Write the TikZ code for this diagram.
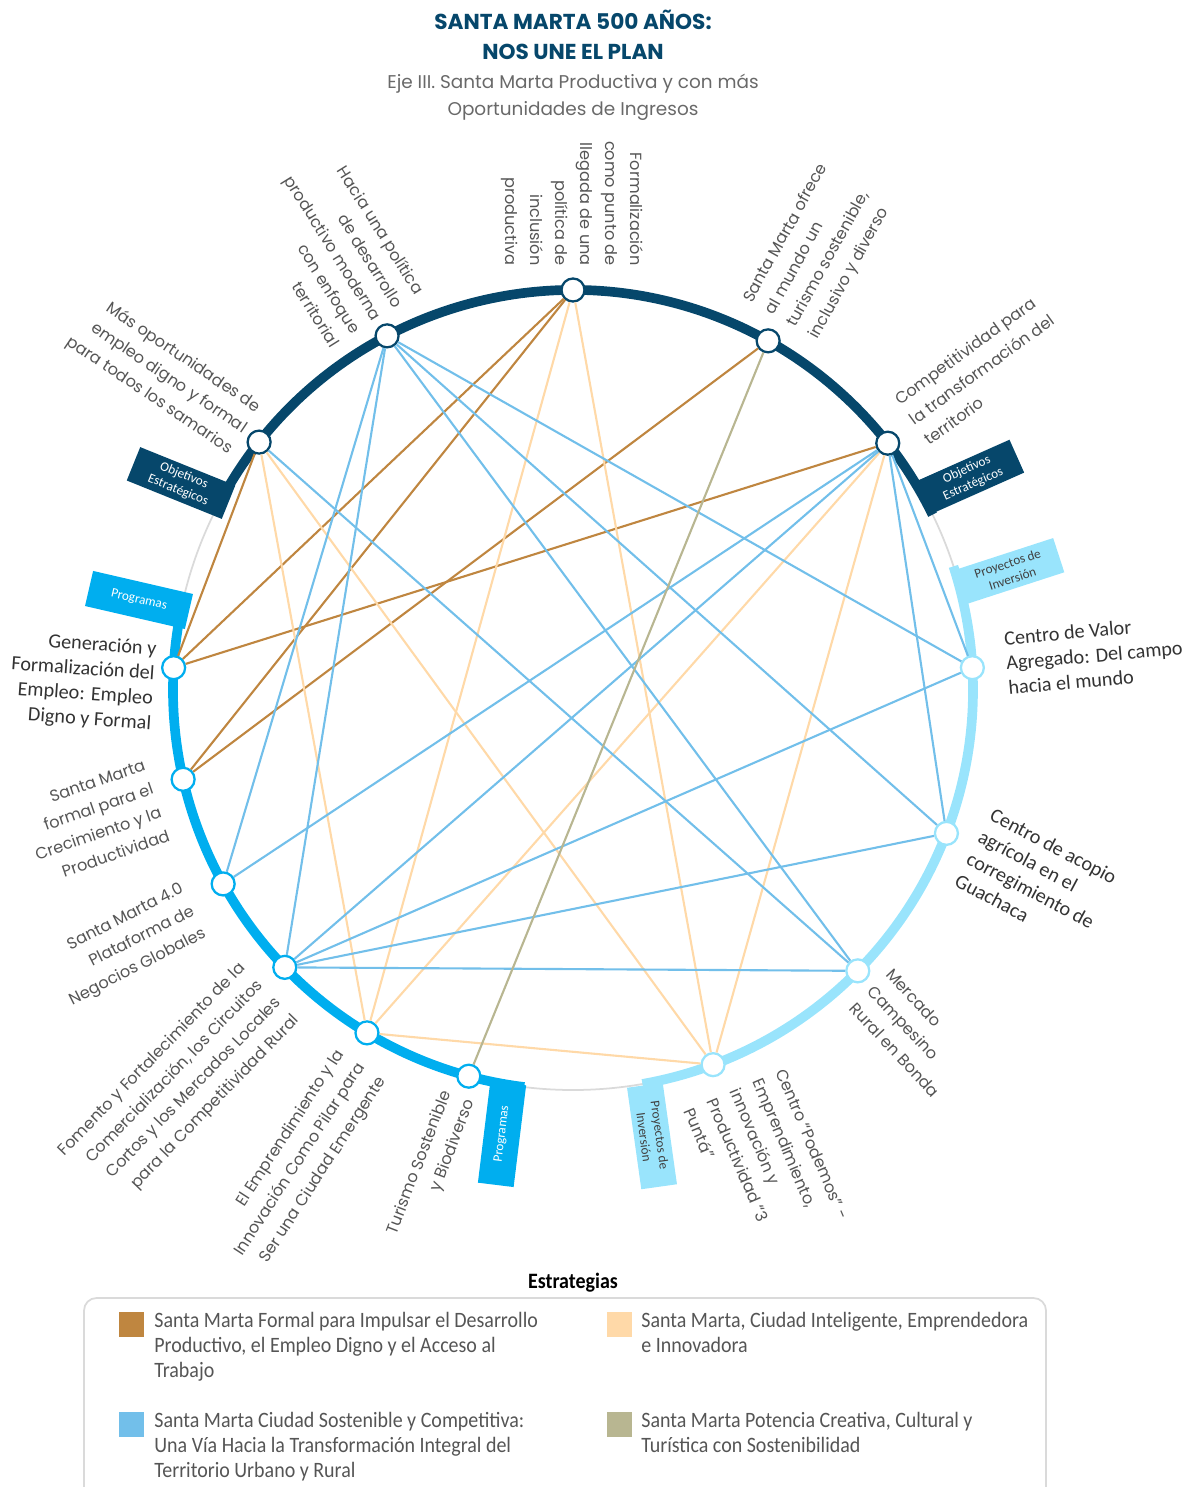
\documentclass[tikz,border=0pt]{standalone}
\usepackage{fontspec}
\setmainfont{Poppins}
\newfontfamily\calfont{Carlito}
\newfontfamily\legfont[FakeStretch=0.91]{Carlito}
\usetikzlibrary{calc}

\definecolor{navy}{RGB}{6,71,107}
\definecolor{progblue}{RGB}{0,174,239}
\definecolor{projblue}{RGB}{153,228,252}
\definecolor{ringgrey}{RGB}{218,218,218}
\definecolor{labelgrey}{RGB}{85,85,85}
\definecolor{subgrey}{RGB}{105,105,105}
\definecolor{stratbrown}{RGB}{191,134,64}
\definecolor{stratpeach}{RGB}{255,217,168}
\definecolor{stratblue}{RGB}{114,191,234}
\definecolor{stratolive}{RGB}{184,182,145}

\tikzset{
  hub/.style={circle, draw=#1, fill=white, line width=1.3pt, minimum size=0.46cm, inner sep=0pt},
  tabbox/.style={fill=#1, minimum width=2.05cm, minimum height=0.72cm, inner sep=0pt, align=center, font=\calfont\fontsize{7.5}{9}\selectfont},
  lab/.style={inner sep=0pt, text=labelgrey, font=\fontsize{9.2}{14.2}\selectfont},
  calab/.style={inner sep=0pt, text=black!80, font=\calfont\fontsize{11.5}{14.2}\selectfont},
  wire/.style={line width=1.2pt, draw=#1},
  keybox/.style={fill=#1, minimum size=0.5cm, inner sep=0pt},
  keytext/.style={anchor=north west, inner sep=0pt, align=left, text=labelgrey, font=\legfont\fontsize{12.5}{14.2}\selectfont},
}

\begin{document}
\begin{tikzpicture}[x=0.02cm, y=0.02cm]
\useasboundingbox (0,0) rectangle (1188,-1487);
\coordinate (c) at (573,-690);

% titulo
\node[font=\bfseries\fontsize{12.3}{17}\selectfont, text=navy, align=center] (title) at (573,-35) {SANTA MARTA 500 AÑOS:\\NOS UNE EL PLAN};
\node[font=\fontsize{10.5}{15.4}\selectfont, text=subgrey, align=center] (subtitle) at (573,-97) {Eje III. Santa Marta Productiva y con más\\Oportunidades de Ingresos};

% anillo
\draw[ringgrey, line width=1pt] (c) circle[radius=400];
\draw[navy, line width=5.5pt] (c) ++(152:400) arc[start angle=152, end angle=26, radius=400];
\draw[progblue, line width=5.5pt] (c) ++(168:400) arc[start angle=168, end angle=263, radius=400];
\draw[projblue, line width=5.5pt] (c) ++(18:400) arc[start angle=18, end angle=-80, radius=400];

\node[tabbox=navy, text=white, rotate=-22] (tabobjl) at (181,-483) {Objetivos\\Estratégicos};
\node[tabbox=navy, text=white, rotate=24] (tabobjr) at (970,-477) {Objetivos\\Estratégicos};
\node[tabbox=progblue, text=white, rotate=-13] (tabprogt) at (139,-600) {Programas};
\node[tabbox=progblue, text=white, rotate=83] (tabprogb) at (502,-1134) {Programas};
\node[tabbox=projblue, text=black!75, rotate=18] (tabprojt) at (1010,-571) {Proyectos de\\Inversión};
\node[tabbox=projblue, text=black!75, rotate=-82] (tabprojb) at (652,-1136) {Proyectos de\\Inversión};

% nodos
\foreach \nm/\ang in {o1/141.7, o2/117.7, o3/90, o4/60.8, o5/38.1}
  \node[hub=navy] (\nm) at ($(c)+(\ang:400)$) {};
\foreach \nm/\ang in {p1/176.8, p2/192.9, p3/209, p4/223.9, p5/239, p6/254.9}
  \node[hub=progblue] (\nm) at ($(c)+(\ang:400)$) {};
\foreach \nm/\ang in {r1/3.2, r2/-21, r3/-44.6, r4/-69.5}
  \node[hub=projblue] (\nm) at ($(c)+(\ang:400)$) {};

% conexiones
\foreach \a/\b in {o1/p1, o3/p1, o5/p1, o3/p2, o4/p2}
  \draw[wire=stratbrown] (\a) -- (\b);
\foreach \a/\b in {o1/p5, o1/r4, o3/p5, o3/r4, o5/p5, o5/r4, p5/r4}
  \draw[wire=stratpeach] (\a) -- (\b);
\foreach \a/\b in {o1/r3, o2/p3, o2/p4, o2/r1, o2/r2, o2/r3, o5/p3, o5/p4, o5/r1, o5/r2, p4/r1, p4/r2, p4/r3}
  \draw[wire=stratblue] (\a) -- (\b);
\draw[wire=stratolive] (o4) -- (p6);

% etiquetas
\node[lab, rotate=-34, anchor=east, align=right] (lo1) at (245,-430) {Más oportunidades de\\empleo digno y formal\\para todos los samarios};
\node[lab, rotate=-58, anchor=east, align=right] (lo2) at (378,-319) {Hacia una política\\de desarrollo\\productivo moderna\\con enfoque\\territorial};
\node[lab, rotate=-90, anchor=east, align=right] (lo3) at (572,-266) {Formalización\\como punto de\\llegada de una\\política de\\inclusión\\productiva};
\node[lab, rotate=61, anchor=west, align=left] (lo4) at (781,-320) {Santa Marta ofrece\\al mundo un\\turismo sostenible,\\inclusivo y diverso};
\node[lab, rotate=36, anchor=west, align=left] (lo5) at (911,-421) {Competitividad para\\la transformación del\\territorio};

\node[calab, rotate=-4, anchor=east, align=right] (lp1) at (154,-687) {Generación y\\Formalización del\\Empleo: Empleo\\Digno y Formal};
\node[lab, rotate=19, anchor=east, align=right] (lp2) at (157,-800) {Santa Marta\\formal para el\\Crecimiento y la\\Productividad};
\node[lab, rotate=27, anchor=east, align=right] (lp3) at (194,-911) {Santa Marta 4.0\\Plataforma de\\Negocios Globales};
\node[lab, rotate=46, anchor=east, align=right] (lp4) at (270,-992) {Fomento y Fortalecimiento de la\\Comercialización, los Circuitos\\Cortos y los Mercados Locales\\para la Competitividad Rural};
\node[lab, rotate=57, anchor=east, align=right] (lp5) at (362,-1065) {El Emprendimiento y la\\Innovación Como Pilar para\\Ser una Ciudad Emergente};
\node[lab, rotate=69, anchor=east, align=right] (lp6) at (459,-1096) {Turismo Sostenible\\y Biodiverso};

\node[calab, rotate=5, anchor=west, align=left] (lr1) at (1006,-663) {Centro de Valor\\Agregado: Del campo\\hacia el mundo};
\node[calab, rotate=-28, anchor=west, align=left] (lr2) at (974,-846) {Centro de acopio\\agrícola en el\\corregimiento de\\Guachaca};
\node[lab, rotate=-47, anchor=west, align=left] (lr3) at (871,-988) {Mercado\\Campesino\\Rural en Bonda};
\node[lab, rotate=-67, anchor=west, align=left] (lr4) at (735,-1089) {Centro “Podemos” -\\Emprendimiento,\\innovación y\\Productividad “3\\Puntá”};

% leyenda
\node[font=\legfont\bfseries\fontsize{12.5}{14}\selectfont] (legtitle) at (573,-1283) {Estrategias};
\draw[ringgrey, line width=1pt, rounded corners=0.25cm] (84,-1298) rectangle (1046,-1520);
\node[keybox=stratbrown] (keybrown) at (131.5,-1324.5) {};
\node[keybox=stratpeach] (keypeach) at (619.5,-1324.5) {};
\node[keybox=stratblue] (keyblue) at (131.5,-1424.5) {};
\node[keybox=stratolive] (keyolive) at (619.5,-1424.5) {};
\node[keytext] (txtbrown) at (154,-1312) {Santa Marta Formal para Impulsar el Desarrollo\\Productivo, el Empleo Digno y el Acceso al\\Trabajo};
\node[keytext] (txtpeach) at (641,-1312) {Santa Marta, Ciudad Inteligente, Emprendedora\\e Innovadora};
\node[keytext] (txtblue) at (154,-1412) {Santa Marta Ciudad Sostenible y Competitiva:\\Una Vía Hacia la Transformación Integral del\\Territorio Urbano y Rural};
\node[keytext] (txtolive) at (641,-1412) {Santa Marta Potencia Creativa, Cultural y\\Turística con Sostenibilidad};
\end{tikzpicture}
\end{document}
